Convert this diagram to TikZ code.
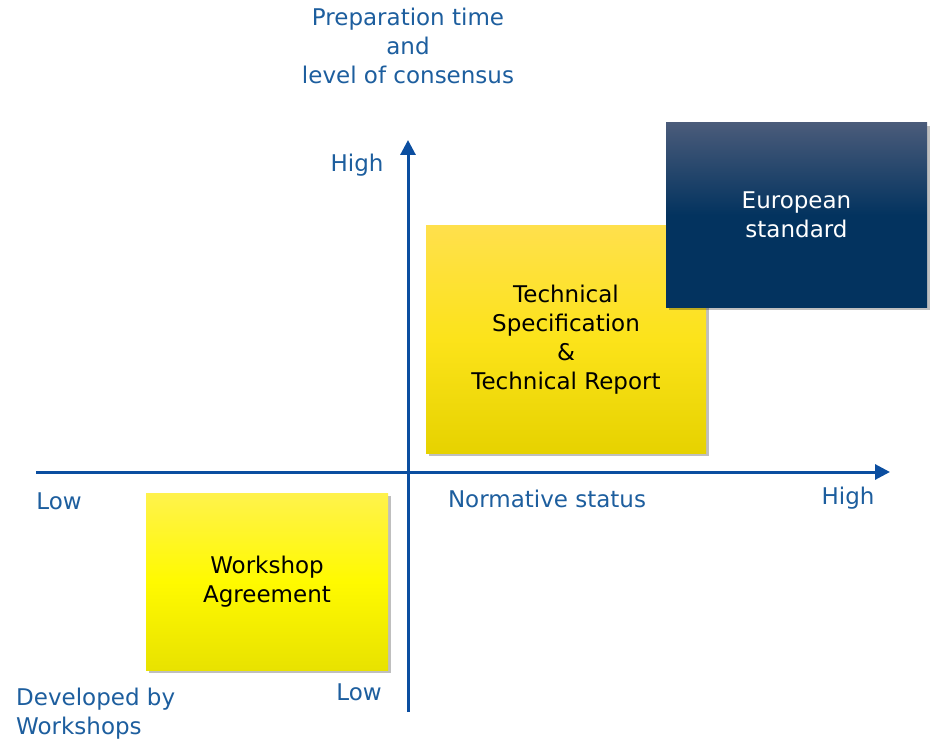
\documentclass[tikz,border=0pt]{standalone}
\usepackage{fontspec}
\setmainfont{DejaVu Sans}
\usetikzlibrary{arrows.meta, shadows}
\definecolor{axisblue}{HTML}{0B4EA0}
\definecolor{labelblue}{HTML}{1D5E9E}
\definecolor{tsTop}{HTML}{FFE04C}
\definecolor{tsMid}{HTML}{FCE31A}
\definecolor{tsBot}{HTML}{E6D200}
\definecolor{waTop}{HTML}{FFF24C}
\definecolor{waMid}{HTML}{FFFA00}
\definecolor{waBot}{HTML}{E8E200}
\definecolor{enTop}{HTML}{4A5B7A}
\definecolor{enBot}{HTML}{03335F}
\newcommand{\labelfont}{\fontsize{23}{29}\selectfont}
\tikzset{
    axisline/.style = {draw=axisblue, line width=3pt, -{Triangle[length=15pt, width=15pt]}},
    lbl/.style = {text=labelblue, font=\labelfont, inner sep=0pt},
    boxtext/.style = {font=\labelfont, align=center, inner sep=0pt},
    shadowed/.style = {drop shadow={shadow xshift=3pt, shadow yshift=-3pt, opacity=0.25, fill=black}}
}

\begin{document}
\begin{tikzpicture}[x=1pt, y=-1pt]
    \useasboundingbox (0,0) rectangle (930,741);
    % axes
    \coordinate (xlo) at (36,472);
    \coordinate (xhi) at (890,472);
    \coordinate (ylo) at (408,712);
    \coordinate (yhi) at (408,140);
    \draw[axisline] (xlo) -- (xhi);
    \draw[axisline] (ylo) -- (yhi);
    % axis labels
    \node[lbl, align=center] (ytitle) at (408,46) {Preparation time\\and\\level of consensus};
    \node[lbl] (yhigh) at (357,165) {High};
    \node[lbl] (ylow) at (359,692) {Low};
    \node[lbl] (xlow) at (59,501) {Low};
    \node[lbl] (xtitle) at (547,499) {Normative status};
    \node[lbl] (xhigh) at (848,498) {High};
    \node[lbl, align=left, anchor=west] (devws) at (16,714) {Developed by\\Workshops};
    % deliverables
    \node[shadowed, boxtext, minimum width=280pt, minimum height=227pt,
          top color=tsTop, bottom color=tsBot, middle color=tsMid] (tsbox) at (566,339.5)
          {Technical\\Specification\\\&\\Technical Report};
    \node[shadowed, boxtext, text=white, minimum width=261pt, minimum height=184pt,
          top color=enTop, bottom color=enBot, middle color=enBot] (enbox) at (796.5,215)
          {European\\standard};
    \node[shadowed, boxtext, minimum width=242pt, minimum height=177pt,
          top color=waTop, bottom color=waBot, middle color=waMid] (wabox) at (267,581.5)
          {Workshop\\Agreement};
\end{tikzpicture}
\end{document}
